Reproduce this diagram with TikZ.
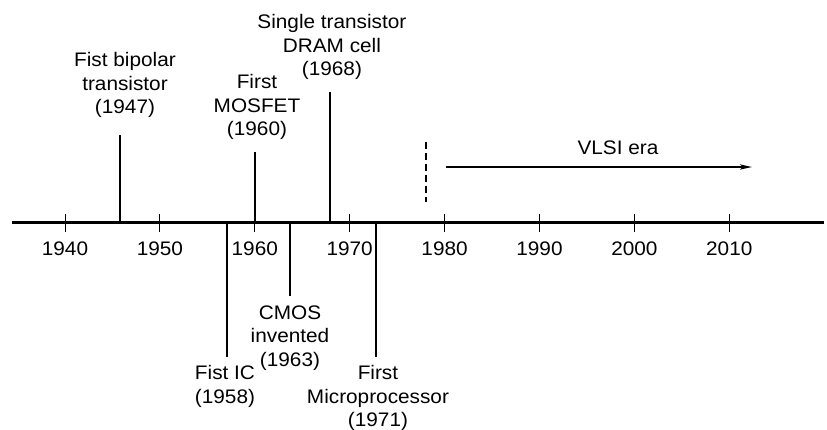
\documentclass[tikz,border=0pt]{standalone}
\usepackage{fontspec}
\setmainfont{Liberation Sans}[FakeStretch=1.06]
\usetikzlibrary{arrows.meta,positioning}

\tikzset{
  lbl/.style={font=\fontsize{9.8}{11.6}\selectfont, align=center, inner sep=0pt},
  event/.style={line width=0.6pt}
}

\begin{document}
\begin{tikzpicture}[x=47.45pt,y=47.45pt]
\useasboundingbox (-0.685,-2.181) rectangle (8.030,2.350);

% time axis
\coordinate (start) at (-0.56,0);
\coordinate (end) at (8.0,0);
\draw[line width=1.5pt] (start) -- (end);

\draw[line width=0.5pt] (0,0.095) -- (0,-0.095);
\draw[line width=0.5pt] (1,0.095) -- (1,-0.095);
\draw[line width=0.5pt] (2,0.095) -- (2,-0.095);
\draw[line width=0.5pt] (3,0.095) -- (3,-0.095);
\draw[line width=0.5pt] (4,0.095) -- (4,-0.095);
\draw[line width=0.5pt] (5,0.095) -- (5,-0.095);
\draw[line width=0.5pt] (6,0.095) -- (6,-0.095);
\draw[line width=0.5pt] (7,0.095) -- (7,-0.095);

\node[lbl] (y1940) at (0,-0.274) {1940};
\node[lbl] (y1950) at (1,-0.274) {1950};
\node[lbl] (y1960) at (2,-0.274) {1960};
\node[lbl] (y1970) at (3,-0.274) {1970};
\node[lbl] (y1980) at (4,-0.274) {1980};
\node[lbl] (y1990) at (5,-0.274) {1990};
\node[lbl] (y2000) at (6,-0.274) {2000};
\node[lbl] (y2010) at (7,-0.274) {2010};

% events above the axis
\coordinate (a1947) at (0.580,0);
\coordinate (b1947) at (0.580,0.927);
\draw[event] (a1947) -- (b1947);
\node[lbl] (t1947) at (0.632,1.454) {Fist bipolar\\transistor\\(1947)};

\coordinate (a1960) at (2.002,0);
\coordinate (b1960) at (2.002,0.748);
\draw[event] (a1960) -- (b1960);
\node[lbl] (t1960) at (2.023,1.222) {First\\MOSFET\\(1960)};

\coordinate (a1968) at (2.792,0);
\coordinate (b1968) at (2.792,1.380);
\draw[event] (a1968) -- (b1968);
\node[lbl] (t1968) at (2.813,1.855) {Single transistor\\DRAM cell\\(1968)};

% events below the axis
\coordinate (a1958) at (1.707,0);
\coordinate (b1958) at (1.707,-1.412);
\draw[event] (a1958) -- (b1958);
\node[lbl] (t1958) at (1.686,-1.723) {Fist IC\\(1958)};

\coordinate (a1963) at (2.371,0);
\coordinate (b1963) at (2.371,-0.769);
\draw[event] (a1963) -- (b1963);
\node[lbl] (t1963) at (2.371,-1.212) {CMOS\\invented\\(1963)};

\coordinate (a1971) at (3.277,0);
\coordinate (b1971) at (3.277,-1.412);
\draw[event] (a1971) -- (b1971);
\node[lbl] (t1971) at (3.298,-1.844) {First\\Microprocessor\\(1971)};

% VLSI era
\coordinate (d1) at (3.804,0.854);
\coordinate (d2) at (3.804,0.221);
\draw[line width=0.7pt, dash pattern=on 3.5pt off 2pt] (d1) -- (d2);

\coordinate (v1) at (4.015,0.590);
\coordinate (v2) at (7.239,0.590);
\draw[line width=0.9pt, -{Stealth[length=6pt,width=2.6pt,inset=1.5pt]}] (v1) -- (v2);
\node[lbl] (vlsi) at (5.827,0.790) {VLSI era};
\end{tikzpicture}
\end{document}
